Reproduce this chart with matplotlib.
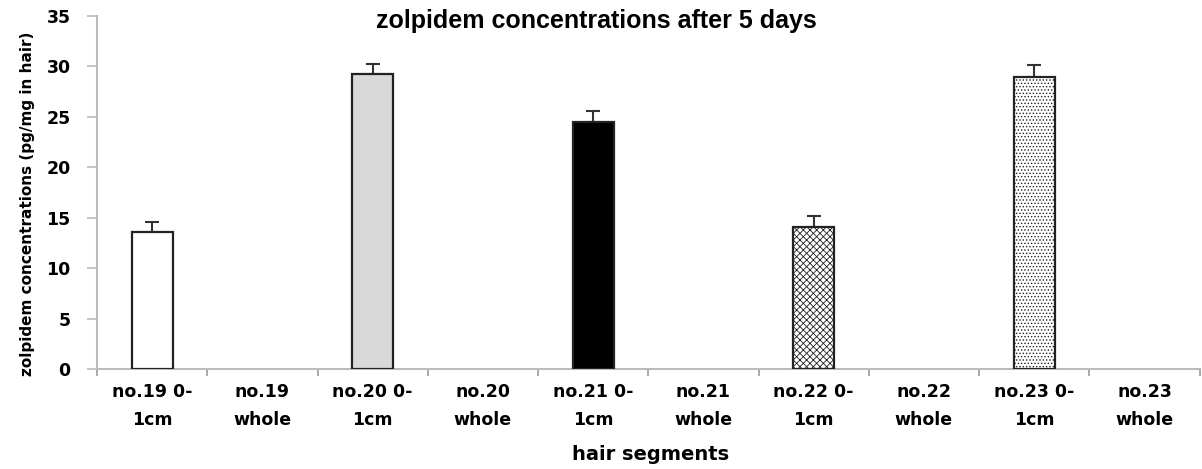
import matplotlib.pyplot as plt
import numpy as np

# Zolpidem levels in hair segments, 5 days after dosing
segments = ['no.19 0-\n1cm', 'no.19\nwhole', 'no.20 0-\n1cm', 'no.20\nwhole',
            'no.21 0-\n1cm', 'no.21\nwhole', 'no.22 0-\n1cm', 'no.22\nwhole',
            'no.23 0-\n1cm', 'no.23\nwhole']
concentrations = [13.6, 0, 29.2, 0, 24.5, 0, 14.1, 0, 29.0, 0]
errors = [1.0, 0, 1.05, 0, 1.05, 0, 1.05, 0, 1.1, 0]
yticks = [0, 5, 10, 15, 20, 25, 30, 35]

plt.rcParams['hatch.linewidth'] = 0.6
plt.rcParams['hatch.color'] = '#555555'

fig = plt.figure(figsize=(12.02, 4.69), dpi=100)
ax = fig.add_axes([0.0807, 0.2132, 0.9173, 0.7527])

x = np.arange(len(segments))
# fill / hatch per bar; the "whole" segments have no bar
styles = [
    dict(color='white', hatch=None),
    None,
    dict(color='#d9d9d9', hatch=None),
    None,
    dict(color='black', hatch=None),
    None,
    dict(color='white', hatch='xxxxx'),
    None,
    dict(color='white', hatch='.....'),
    None,
]

for i, (val, err) in enumerate(zip(concentrations, errors)):
    st = styles[i]
    if st is None:
        continue
    ax.bar(x[i], val, width=0.37, color=st['color'], hatch=st['hatch'],
           edgecolor='#222222', linewidth=1.6, zorder=3)
    ax.errorbar(x[i], val, yerr=[[0], [err]], fmt='none', ecolor='#333333',
                elinewidth=1.5, capsize=5, capthick=1.5, zorder=2)

ax.set_xlim(-0.5, len(segments) - 0.5)
ax.set_ylim(0, 35)
ax.set_yticks(yticks)
ax.set_yticklabels([str(t) for t in yticks], family='DejaVu Sans',
                   fontweight='bold', fontsize=12.5)

ax.set_xticks(x)
ax.set_xticklabels(segments, family='DejaVu Sans', fontweight='bold',
                   fontsize=12.5, linespacing=1.7)
ax.set_xticks(np.arange(-0.5, len(segments)), minor=True)
ax.tick_params(axis='x', which='major', length=0, pad=10)
ax.tick_params(axis='x', which='minor', length=5, color='#999999', width=1.2)
ax.tick_params(axis='y', length=7, color='#bbbbbb', width=1.2, pad=12)

for side in ['top', 'right']:
    ax.spines[side].set_visible(False)
for side in ['left', 'bottom']:
    ax.spines[side].set_color('#bbbbbb')
    ax.spines[side].set_linewidth(1.5)

fig.text(0.0225, 0.565, 'zolpidem concentrations (pg/mg in hair)',
         family='DejaVu Sans', fontweight='bold', fontsize=11,
         rotation=90, ha='center', va='center')
fig.text(0.541, 0.03, 'hair segments', family='DejaVu Sans',
         fontweight='bold', fontsize=14, ha='center', va='center')
fig.text(0.496, 0.955, 'zolpidem concentrations after 5 days',
         family='Liberation Sans', fontweight='bold', fontsize=18,
         ha='center', va='center')

fig.savefig('out.png', dpi=100)
